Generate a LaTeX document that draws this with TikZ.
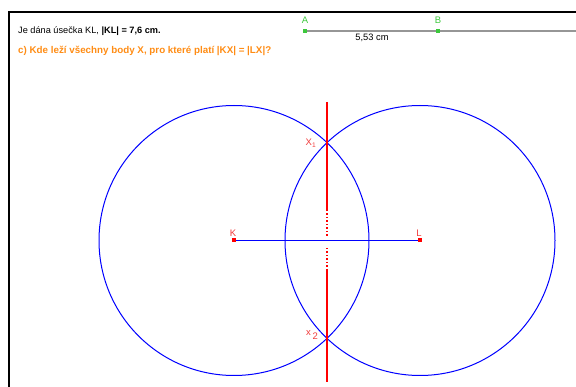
\documentclass[tikz,border=0pt]{standalone}
\usepackage{fontspec}
\setmainfont{Liberation Sans}
\definecolor{myblue}{RGB}{0,0,255}
\definecolor{myred}{RGB}{255,0,0}
\definecolor{lblred}{RGB}{240,60,60}
\definecolor{mygreen}{RGB}{60,200,60}
\definecolor{myorange}{RGB}{255,140,20}
\definecolor{mygray}{RGB}{150,150,150}
\begin{document}
\begin{tikzpicture}[x=1pt,y=-1pt,
  circ/.style={draw=myblue,line width=1pt},
  ptred/.style={fill=myred,inner sep=0pt,minimum size=4pt},
  ptgreen/.style={fill=mygreen,inner sep=0pt,minimum size=4pt},
  lbl/.style={text=lblred,font=\fontsize{9.5}{10}\selectfont,inner sep=0pt},
  glbl/.style={text=mygreen,font=\fontsize{9.5}{10}\selectfont,inner sep=0pt}]
\useasboundingbox (0,0) rectangle (576,387);
% frame
\draw[line width=2pt,black] (9,387) -- (9,12) -- (576,12);
% texts
\node[anchor=west,inner sep=0pt,font=\fontsize{9.2}{11}\selectfont] (t1) at (18,31) {Je dána úsečka KL, \textbf{|KL| = 7,6 cm.}};
\node[anchor=west,inner sep=0pt,text=myorange,font=\bfseries\fontsize{9.8}{11}\selectfont] (t2) at (18,51) {c) Kde leží všechny body X, pro které platí |KX| = |LX|?};
% segment AB
\coordinate (R) at (576,31);
\node[ptgreen] (A) at (305,31) {};
\node[ptgreen] (B) at (438,31) {};
\draw[mygray,line width=1.2pt] (A.center) -- (R);
\node[ptgreen] at (305,31) {};
\node[ptgreen] at (438,31) {};
\node[glbl] (Al) at (305,20) {A};
\node[glbl] (Bl) at (438,20) {B};
\node[inner sep=0pt,font=\fontsize{9.3}{10}\selectfont] (ab) at (372,38) {5,53 cm};
% circles
\coordinate (K) at (234,240.5);
\coordinate (L) at (420,240.5);
\draw[circ] (K) circle[radius=135];
\draw[circ] (L) circle[radius=135];
\draw[draw=myblue,line width=1pt] (K) -- (L);
\node[ptred] (Kp) at (K) {};
\node[ptred] (Lp) at (L) {};
\node[lbl] (Kl) at (233,233) {K};
\node[lbl] (Ll) at (419,233) {L};
% perpendicular bisector
\coordinate (P1) at (327,102);
\coordinate (P2) at (327,210);
\coordinate (P3) at (327,236);
\coordinate (P4) at (327,248);
\coordinate (P5) at (327,270);
\coordinate (P6) at (327,382);
\draw[myred,line width=2.4pt] (P1) -- (P2);
\draw[myred,line width=2.4pt,dash pattern=on 1.5pt off 2pt] (P2) -- (P3);
\draw[myred,line width=2.4pt,dash pattern=on 1.5pt off 2pt] (P4) -- (P5);
\draw[myred,line width=2.4pt] (P5) -- (P6);
% intersection points
\coordinate (X1) at (327,143);
\coordinate (X2) at (327,339);
\node[lbl] (X1l) at (311,143) {X\textsubscript{1}};
\node[lbl] (X2l) at (312,335) {x\raisebox{-4pt}{\,2}};
\end{tikzpicture}
\end{document}
